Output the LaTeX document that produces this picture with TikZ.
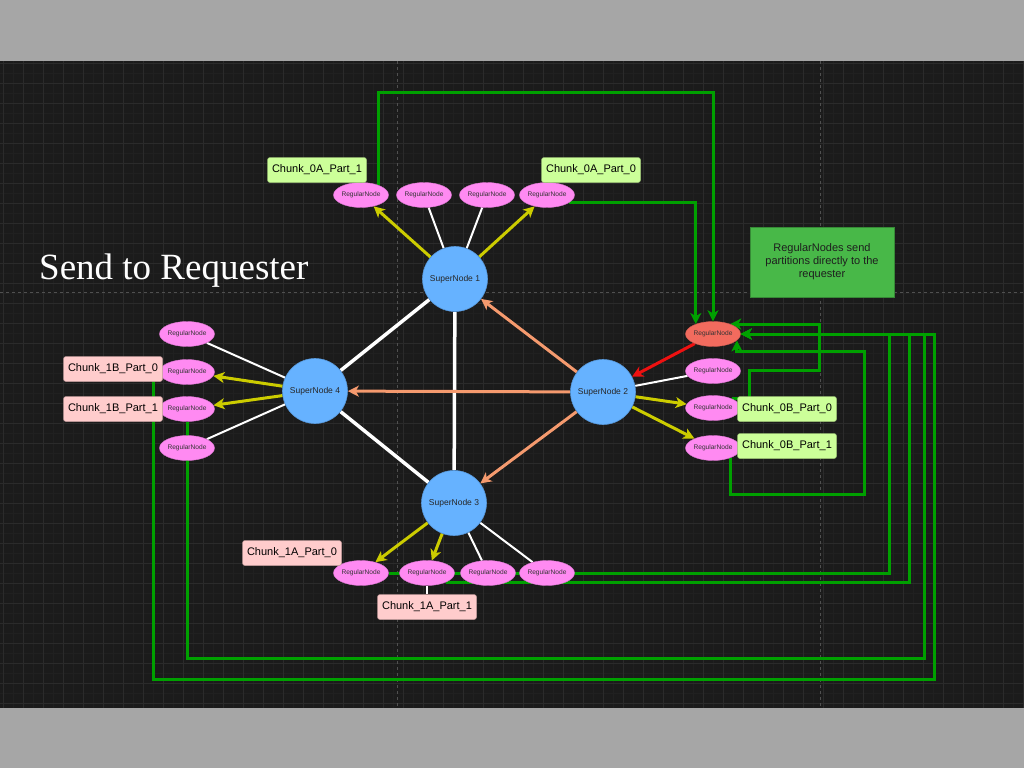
\documentclass[tikz,border=0pt]{standalone}
\usepackage{fontspec}
\setmainfont{Liberation Sans}
\newfontfamily\titlefont{Liberation Serif}
\usetikzlibrary{arrows.meta,shapes.geometric}
\definecolor{bgdark}{HTML}{1B1B1B}
\definecolor{gridminor}{HTML}{202020}
\definecolor{gridmajor}{HTML}{2B2B2B}
\definecolor{pageline}{HTML}{505050}
\definecolor{band}{HTML}{A6A6A6}
\definecolor{superblue}{HTML}{66B2FF}
\definecolor{regpink}{HTML}{FF8AF2}
\definecolor{regred}{HTML}{F26B5E}
\definecolor{ylw}{HTML}{CCCC00}
\definecolor{orng}{HTML}{F59A6E}
\definecolor{arrred}{HTML}{EE1111}
\definecolor{grn}{HTML}{00A000}
\definecolor{chunkgreen}{HTML}{CCFF99}
\definecolor{chunkpink}{HTML}{FFCCCC}
\definecolor{notegreen}{HTML}{48B848}
\definecolor{notetext}{HTML}{1E1E1E}
\pgfdeclarelayer{back}
\pgfdeclarelayer{edges}
\pgfsetlayers{back,edges,main}
\begin{document}
\begin{tikzpicture}[x=1pt,y=-1pt,
  supernode/.style={circle, fill=superblue, draw=superblue!85!black, line width=0.6pt,
    minimum size=65pt, inner sep=0pt, text=black!85, font=\fontsize{8.5}{10}\selectfont},
  regnode/.style={ellipse, fill=regpink, draw=regpink!85!black, line width=0.4pt,
    minimum width=48pt, minimum height=25pt, inner sep=0pt, text=black!80,
    font=\fontsize{6.6}{7}\selectfont},
  rednode/.style={regnode, fill=regred, draw=regred!85!black},
  chunkbase/.style={rounded corners=2.5pt, line width=0.5pt, minimum width=99pt,
    minimum height=25pt, inner sep=0pt, text=black, font=\fontsize{11}{12}\selectfont},
  chunkg/.style={chunkbase, fill=chunkgreen, draw=chunkgreen!75!black},
  chunkp/.style={chunkbase, fill=chunkpink, draw=chunkpink!75!black},
  notebox/.style={fill=notegreen, draw=notegreen!75!black, line width=0.6pt,
    minimum width=144pt, minimum height=70pt, inner sep=0pt, align=center,
    text=notetext, font=\fontsize{11}{13}\selectfont},
  tip/.style={-{Stealth[length=11pt,width=11pt,inset=3pt]}},
  wthick/.style={white, line width=3.5pt},
  wthin/.style={white, line width=2pt},
  yarr/.style={ylw, line width=3pt, tip},
  oarr/.style={orng, line width=3pt, tip},
  rarr/.style={arrred, line width=3pt, tip},
  garr/.style={grn, line width=3pt, tip}
]
\useasboundingbox (0,0) rectangle (1024,768);

% ---------- background ----------
\begin{pgfonlayer}{back}
  \fill[band] (0,0) rectangle (1024,768);
  \fill[bgdark] (0,61) rectangle (1024,708);
  \foreach \i in {0,...,102} \draw[gridminor, line width=0.6pt] (3.3+10*\i,61) -- (3.3+10*\i,708);
  \foreach \j in {0,...,64} \draw[gridminor, line width=0.6pt] (0,63.3+10*\j) -- (1024,63.3+10*\j);
  \foreach \i in {0,...,51} \draw[gridmajor, line width=0.8pt] (3.3+20*\i,61) -- (3.3+20*\i,708);
  \foreach \j in {0,...,32} \draw[gridmajor, line width=0.8pt] (0,63.3+20*\j) -- (1024,63.3+20*\j);
  \draw[pageline, line width=0.8pt, dash pattern=on 3pt off 3pt] (397,61) -- (397,708);
  \draw[pageline, line width=0.8pt, dash pattern=on 3pt off 3pt] (820,61) -- (820,708);
  \draw[pageline, line width=0.8pt, dash pattern=on 3pt off 3pt] (0,292) -- (1024,292);
\end{pgfonlayer}

% ---------- title ----------
\node[anchor=base west, inner sep=0pt, text=white, font=\titlefont\fontsize{37}{40}\selectfont]
  (title) at (39,279) {Send to Requester};

% ---------- super nodes ----------
\node[supernode] (s1) at (455,279) {SuperNode 1};
\node[supernode] (s2) at (603,392) {SuperNode 2};
\node[supernode] (s3) at (454,503) {SuperNode 3};
\node[supernode] (s4) at (315,391) {SuperNode 4};

% ---------- regular nodes ----------
\node[regnode] (a1) at (361,195) {RegularNode};
\node[regnode] (a2) at (424,195) {RegularNode};
\node[regnode] (a3) at (487,195) {RegularNode};
\node[regnode] (a4) at (547,195) {RegularNode};

\node[rednode] (red) at (713,334) {RegularNode};
\node[regnode] (b2) at (713,371) {RegularNode};
\node[regnode] (b3) at (713,408) {RegularNode};
\node[regnode] (b4) at (713,448) {RegularNode};

\node[regnode] (c1) at (361,573) {RegularNode};
\node[regnode] (c2) at (427,573) {RegularNode};
\node[regnode] (c3) at (488,573) {RegularNode};
\node[regnode] (c4) at (547,573) {RegularNode};

\node[regnode] (d1) at (187,334) {RegularNode};
\node[regnode] (d2) at (187,372) {RegularNode};
\node[regnode] (d3) at (187,409) {RegularNode};
\node[regnode] (d4) at (187,448) {RegularNode};

% ---------- chunk labels ----------
\node[chunkg] (k0a1) at (317,170) {Chunk\_0A\_Part\_1};
\node[chunkg] (k0a0) at (591,170) {Chunk\_0A\_Part\_0};
\node[chunkg] (k0b0) at (787,409) {Chunk\_0B\_Part\_0};
\node[chunkg] (k0b1) at (787,446) {Chunk\_0B\_Part\_1};
\node[chunkp] (k1b0) at (113,369) {Chunk\_1B\_Part\_0};
\node[chunkp] (k1b1) at (113,409) {Chunk\_1B\_Part\_1};
\node[chunkp] (k1a0) at (292,553) {Chunk\_1A\_Part\_0};
\node[chunkp] (k1a1) at (427,607) {Chunk\_1A\_Part\_1};

% ---------- note ----------
\node[notebox] (note) at (822,262) {RegularNodes send\\partitions directly to the\\requester};

% ---------- route corners ----------
\coordinate (topc) at (713,92);
\coordinate (q1) at (749,370);
\coordinate (q2) at (819,370);
\coordinate (q3) at (864,494);
\coordinate (y351) at (0,351);
\coordinate (qq) at (red.-15 |- y351);
\coordinate (k1) at (889,334);
\coordinate (k2) at (909,334);
\coordinate (m2) at (924,658);
\coordinate (k3) at (924,334);
\coordinate (m1) at (153,679);
\coordinate (k4) at (934,334);

% ---------- connectors ----------
\begin{pgfonlayer}{edges}
  % super node mesh
  \draw[wthick] (s1) -- (s4);
  \draw[wthick] (s1) -- (s3);
  \draw[wthick] (s4) -- (s3);
  \draw[oarr] (s2) -- (s1);
  \draw[oarr] (s2) -- (s4);
  \draw[oarr] (s2) -- (s3);
  \draw[rarr] (red) -- (s2);
  % SuperNode 1
  \draw[yarr] (s1) -- (a1);
  \draw[wthin] (s1) -- (a2);
  \draw[wthin] (s1) -- (a3);
  \draw[yarr] (s1) -- (a4);
  % SuperNode 2
  \draw[wthin] (s2) -- (b2);
  \draw[yarr] (s2) -- (b3);
  \draw[yarr] (s2) -- (b4);
  % SuperNode 3
  \draw[yarr] (s3) -- (c1);
  \draw[yarr] (s3) -- (c2);
  \draw[wthin] (s3) -- (c3);
  \draw[wthin] (s3) -- (c4);
  \draw[wthin] (k1a1) -- (c2);
  % SuperNode 4
  \draw[wthin] (s4) -- (d1);
  \draw[yarr] (s4) -- (d2);
  \draw[yarr] (s4) -- (d3);
  \draw[wthin] (s4) -- (d4);
  % partitions sent to the requester
  \draw[garr] (a1.30) |- (topc) -- (red.north);
  \draw[garr] (a4.-20) -| (red.150);
  \draw[garr] (b3.25) -| (q1) -- (q2) |- (red.30);
  \draw[garr] (b4.-30) |- (q3) |- (qq) -- (red.-15);
  \draw[garr] (c1.east) -| (k1) -- (red.east);
  \draw[garr] (c2.-25) -| (k2) -- (red.east);
  \draw[garr] (d3.south) |- (m2) -- (k3) -- (red.east);
  \draw[garr] (d2.west) -| (m1) -| (k4) -- (red.east);
\end{pgfonlayer}
\end{tikzpicture}
\end{document}
